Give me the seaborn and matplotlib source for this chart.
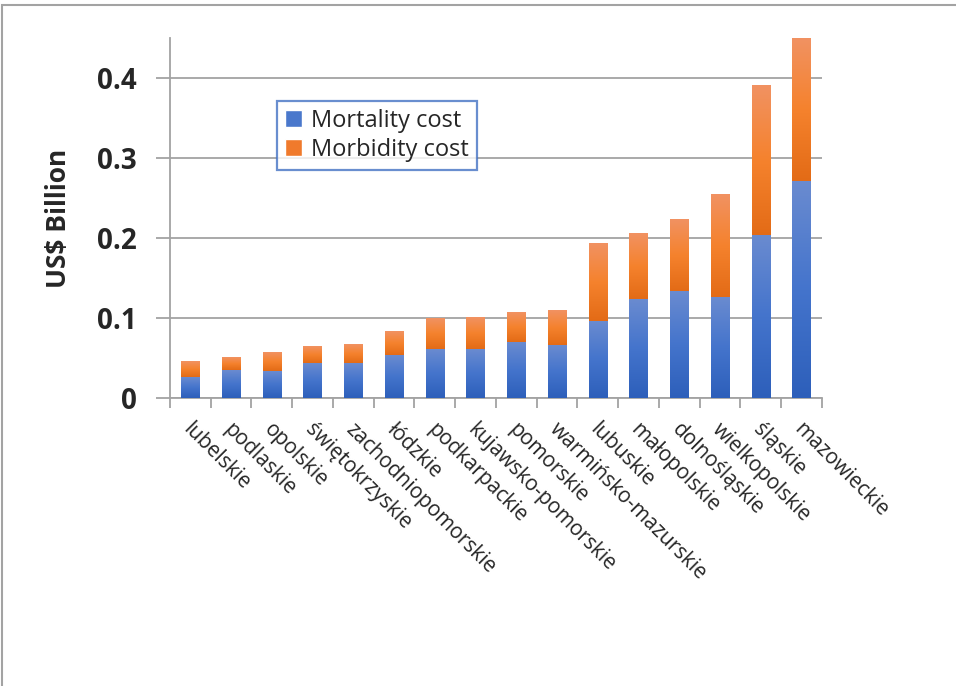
import numpy as np
import pandas as pd
import seaborn as sns
import matplotlib.pyplot as plt
import matplotlib.transforms as mtransforms
from matplotlib.colors import LinearSegmentedColormap
from matplotlib.patches import Patch, Rectangle

regions = ['lubelskie', 'podlaskie', 'opolskie', 'świętokrzyskie', 'zachodniopomorskie',
           'łódzkie', 'podkarpackie', 'kujawsko-pomorskie', 'pomorskie', 'warmińsko-mazurskie',
           'lubuskie', 'małopolskie', 'dolnośląskie', 'wielkopolskie', 'śląskie', 'mazowieckie']
mortality = [0.026, 0.035, 0.033, 0.043, 0.043, 0.053, 0.061, 0.061, 0.070, 0.066,
             0.096, 0.123, 0.133, 0.126, 0.203, 0.271]
morbidity = [0.019, 0.016, 0.023, 0.021, 0.023, 0.029, 0.038, 0.040, 0.037, 0.043,
             0.097, 0.082, 0.090, 0.128, 0.188, 0.179]
yticks = [0, 0.1, 0.2, 0.3, 0.4]
yticklabels = ['0', '0.1', '0.2', '0.3', '0.4']

df = pd.DataFrame({'region': regions, 'mortality': mortality, 'morbidity': morbidity})
df['total'] = df['mortality'] + df['morbidity']

sns.set_style('white')
plt.rcParams['font.family'] = ['Open Sans', 'DejaVu Sans']

fig = plt.figure(figsize=(9.56, 6.86), dpi=100)
ax = fig.add_axes([0.1778, 0.4203, 0.682, 0.524])

grey = '#a3a3a3'
blue_cmap = LinearSegmentedColormap.from_list('b', ['#2d5fba', '#4474cc', '#6a8bd0'])
orange_cmap = LinearSegmentedColormap.from_list('o', ['#e36b16', '#f5822d', '#f19262'])

sns.barplot(data=df, x='region', y='total', color='#f07a2c', width=0.45, ax=ax, zorder=3)
sns.barplot(data=df, x='region', y='mortality', color='#4472c4', width=0.45, ax=ax, zorder=3)

# gradient fill per bar segment, like the Excel original
grad = np.linspace(0, 1, 256).reshape(-1, 1)
for cont, cmap, base in [(ax.containers[0], orange_cmap, df['mortality']),
                         (ax.containers[1], blue_cmap, None)]:
    for i, p in enumerate(cont.patches):
        x0, w = p.get_x(), p.get_width()
        top = p.get_y() + p.get_height()
        bot = base.iloc[i] if base is not None else p.get_y()
        ax.imshow(grad, cmap=cmap, origin='lower', aspect='auto',
                  extent=[x0, x0 + w, bot, top], zorder=4)
        p.set_visible(False)

ax.set_xlim(-0.5, len(regions) - 0.5)
ax.set_ylim(0, 0.45)
ax.set_yticks(yticks)
ax.set_yticklabels(yticklabels, fontsize=20, fontweight='bold')
ax.yaxis.grid(True, color=grey, linewidth=1.3, zorder=0)
ax.set_axisbelow(True)
ax.tick_params(axis='y', length=10, width=1.3, color=grey, pad=14, direction='out', left=True)

ax.set_xticks(np.arange(len(regions)))
ax.set_xticks(np.arange(len(regions) + 1) - 0.5, minor=True)
ax.tick_params(axis='x', which='major', length=0, pad=0)
ax.tick_params(axis='x', which='minor', length=7, width=1.3, color=grey, direction='out', bottom=True)
ax.set_xticklabels(regions, rotation=-45, ha='left', va='top', rotation_mode='anchor', fontsize=15)
offset = mtransforms.ScaledTranslation(3 / 100, -21 / 100, fig.dpi_scale_trans)
for lbl in ax.get_xticklabels():
    lbl.set_transform(lbl.get_transform() + offset)

ax.set_xlabel('')
ax.set_ylabel('US$ Billion', fontsize=19, fontweight='bold', labelpad=18)

for s in ['top', 'right']:
    ax.spines[s].set_visible(False)
for s in ['left', 'bottom']:
    ax.spines[s].set_color(grey)
    ax.spines[s].set_linewidth(1.3)

handles = [Patch(facecolor='#4a78cc', label='Mortality cost'),
           Patch(facecolor='#f07a2c', label='Morbidity cost')]
leg = ax.legend(handles=handles, loc='upper left', bbox_to_anchor=(0.164, 0.826),
                borderaxespad=0, fontsize=17, frameon=True, fancybox=False,
                handlelength=0.7, handleheight=0.7, handletextpad=0.4,
                borderpad=0.35, labelspacing=0.2)
leg.get_frame().set_edgecolor('#4472c4')
leg.get_frame().set_linewidth(1.6)
leg.set_zorder(6)

fig.patches.append(Rectangle((2 / 956, -0.05), 1.2, 1 - 5 / 686 + 0.05,
                             transform=fig.transFigure, fill=False,
                             edgecolor=grey, linewidth=1.5))

fig.savefig('out.png', dpi=100)
